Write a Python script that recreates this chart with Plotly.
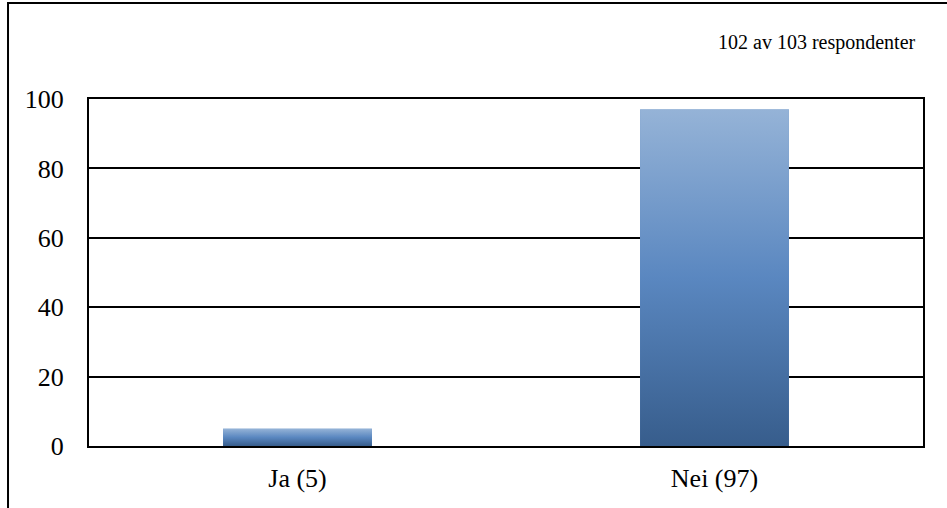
import plotly.graph_objects as go

categories = ["Ja (5)", "Nei (97)"]
values = [5, 97]
y_ticks = [0, 20, 40, 60, 80, 100]
note = "102 av 103 respondenter"

BAR_W = 0.357
LIGHT = "#95B3D7"
MID = "#5A87C0"
DARK = "#375D8C"
SERIF = "Liberation Serif"

fig = go.Figure()
xs = list(range(len(categories)))
fig.add_trace(go.Bar(x=xs, y=values, width=BAR_W, marker=dict(color=MID, line=dict(width=0)),
                     hoverinfo="skip", showlegend=False))
for i, v in zip(xs, values):
    fig.add_trace(go.Scatter(
        x=[i - BAR_W / 2, i + BAR_W / 2, i + BAR_W / 2, i - BAR_W / 2, i - BAR_W / 2],
        y=[0, 0, v, v, 0],
        mode="lines", line=dict(width=0), fill="toself",
        fillgradient=dict(type="vertical", start=0, stop=v,
                          colorscale=[[0, DARK], [0.5, MID], [1, LIGHT]]),
        hoverinfo="skip", showlegend=False))

axis_font = dict(family=SERIF, size=26, color="black")
fig.update_layout(
    width=947, height=508,
    margin=dict(l=89, r=24, t=99, b=62),
    paper_bgcolor="white", plot_bgcolor="white",
    showlegend=False,
    font=dict(family=SERIF),
    xaxis=dict(range=[-0.5, 1.5], tickvals=xs, ticktext=categories, tickfont=axis_font,
               showgrid=False, zeroline=False, showline=True, linecolor="black", linewidth=2,
               mirror=True, ticks="outside", ticklen=0, ticklabelstandoff=8, fixedrange=True),
    yaxis=dict(range=[0, 100], tickvals=y_ticks, tickfont=axis_font,
               showgrid=True, gridcolor="black", gridwidth=2, zeroline=False,
               showline=True, linecolor="black", linewidth=2, mirror=True,
               ticks="outside", ticklen=0, ticklabelstandoff=18, fixedrange=True),
    annotations=[dict(text=note, xref="paper", yref="paper", x=0.994, y=1.164,
                      xanchor="right", yanchor="middle", showarrow=False,
                      font=dict(family=SERIF, size=20, color="black"))],
    shapes=[dict(type="rect", xref="paper", yref="paper", x0=-0.0971, x1=1.2, y0=-0.5, y1=1.2767,
                 line=dict(color="black", width=2), fillcolor="rgba(0,0,0,0)", layer="above")],
)
fig.write_html("out.html", config={"displayModeBar": False, "staticPlot": True},
               post_script="document.body.style.margin='0';document.body.style.padding='0';")
